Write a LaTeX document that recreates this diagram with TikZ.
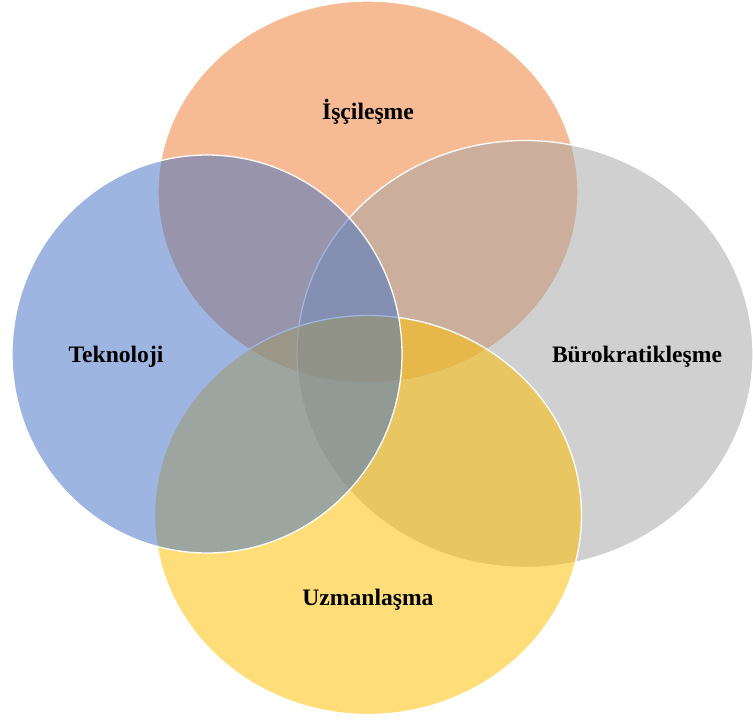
\documentclass[tikz,border=0pt]{standalone}
\usepackage{fontspec}
\setmainfont{Liberation Serif}
\usetikzlibrary{shapes.geometric}
\definecolor{vorange}{HTML}{ED7D31}
\definecolor{vgray}{HTML}{A5A5A5}
\definecolor{vyellow}{HTML}{FFC000}
\definecolor{vblue}{HTML}{4472C4}
\tikzset{
  venn/.style={ellipse, draw=white, line width=1.3pt, fill opacity=0.52, inner sep=0pt},
  vennlabel/.style={anchor=base, font=\bfseries\fontsize{23.6}{28}\selectfont}
}
\begin{document}
\begin{tikzpicture}[x=1pt, y=-1pt]
\useasboundingbox (0,0) rectangle (753,720);
% Ellipses (back to front)
\node[venn, minimum width=420pt, minimum height=382pt, fill=vorange] (isc) at (368,192) {};
\node[venn, minimum width=456pt, minimum height=427pt, fill=vgray] (buro) at (525,354) {};
\node[venn, minimum width=427pt, minimum height=399pt, fill=vyellow] (uzm) at (368,515) {};
\node[venn, minimum width=390pt, minimum height=398pt, fill=vblue] (tek) at (207,354) {};

% Labels
\node[vennlabel] (isclabel) at (368,119) {İşçileşme};
\node[vennlabel] (teklabel) at (116,362) {Teknoloji};
\node[vennlabel] (burolabel) at (637,362) {Bürokratikleşme};
\node[vennlabel] (uzmlabel) at (368,605) {Uzmanlaşma};
\end{tikzpicture}
\end{document}
